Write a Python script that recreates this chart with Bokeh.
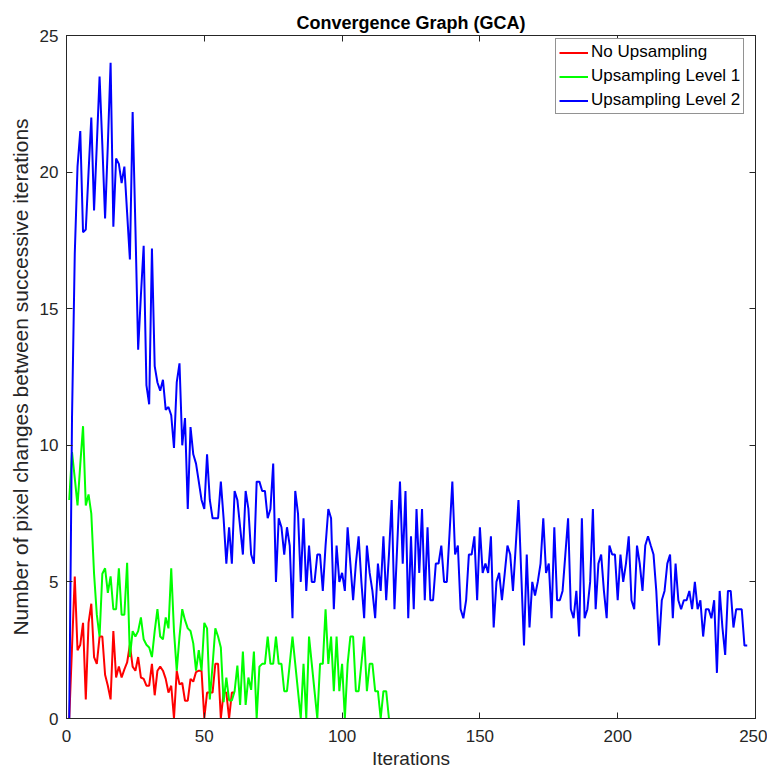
from bokeh.plotting import figure
from bokeh.models import LinearAxis, Legend, LegendItem, Range1d, FixedTicker, CustomLabelingPolicy
from bokeh.embed import file_html
from bokeh.resources import INLINE

# ---- data ----
no_upsampling = [0, 2.6, 5.2, 2.5, 2.7, 3.5, 0.7, 3.5, 4.2, 2.25,
                 2.0, 3.0, 3.0, 1.6, 1.2, 0.7, 3.2, 1.5, 1.9, 1.5,
                 1.8, 2.05, 2.7, 1.9, 1.75, 2.25, 1.5, 1.45, 1.2, 1.2,
                 2.0, 0.85, 1.75, 1.9, 1.75, 1.45, 0.95, 1.2, 0, 1.75,
                 1.25, 1.3, 0.65, 0.65, 1.45, 1.35, 1.7, 1.75, 1.75, 0,
                 0.95, 0.95, 0.95, 2.0, 2.0, 0, 0.95, 0.95, 0, 0.95, 0.95]

level1 = [8.0, 9.75, 8.8, 7.8, 9.3, 10.7, 7.8, 8.2, 7.5, 5.3,
          3.8, 3.0, 5.3, 5.5, 4.6, 5.2, 4.0, 4.0, 5.5, 3.8,
          3.8, 5.7, 2.25, 3.2, 3.0, 3.2, 3.7, 2.9, 2.7, 2.6,
          2.25, 3.2, 4.0, 3.0, 2.9, 3.7, 3.3, 5.5, 3.2, 1.75,
          3.0, 4.0, 3.6, 3.3, 3.2, 2.75, 1.75, 2.5, 1.75, 3.5,
          3.3, 0.7, 1.95, 3.3, 3.0, 2.6, 0.6, 1.5, 0.66, 0.66,
          1.0, 1.94, 0.5, 2.45, 0.5, 1.5, 1.05, 2.45, 0, 1.9,
          2.0, 2.0, 3.0, 2.0, 2.0, 3.0, 2.0, 2.0, 1.0, 1.0,
          2.0, 3.0, 2.0, 1.0, 0, 2.0, 0, 3.0, 2.0, 1.0,
          0, 2.0, 2.0, 4.0, 2.0, 3.0, 1.0, 3.0, 1.0, 2.0,
          0, 2.0, 3.0, 3.0, 1.0, 1.0, 2.0, 3.0, 1.0, 2.0,
          2.0, 1.0, 1.0, 0, 1.0, 1.0, 0]

level2 = [0, 11, 17, 20.2, 21.5, 17.8, 17.9, 20, 22, 18.6,
          21, 23.5, 21, 18.3, 21, 24, 18, 20.5, 20.3, 19.6,
          20.2, 18.5, 16.8, 22.2, 18, 13.5, 15.5, 17.3, 12.2, 11.5,
          17.2, 12.9, 12.3, 12, 12.4, 11.3, 11.4, 11.1, 9.9, 12.3,
          13, 10, 11.0, 7.67, 10.67, 9.67, 9.33, 8.67, 8.0, 7.67,
          9.67, 8.0, 7.33, 7.33, 7.33, 8.67, 7.33, 5.67, 7.0, 5.67,
          8.33, 8.0, 7.0, 6.0, 8.33, 7.67, 6.0, 5.67, 8.67, 8.67,
          8.33, 8.33, 7.33, 7.67, 9.33, 5.0, 7.33, 7.0, 6.0, 7.0,
          6.33, 3.67, 8.33, 7.5, 5.0, 7.33, 4.67, 6.33, 5.0, 5.0,
          6.0, 6.0, 4.67, 6.33, 7.67, 7.33, 4.0, 6.33, 5.0, 5.33,
          4.67, 7.0, 5.67, 4.33, 5.67, 6.67, 5.0, 3.67, 6.33, 5.33,
          4.67, 3.67, 5.67, 4.67, 6.67, 4.33, 6.0, 8.0, 4.0, 6.33,
          8.67, 5.67, 8.33, 3.67, 6.67, 4.0, 7.67, 5.33, 7.67, 4.33,
          7.0, 4.33, 4.33, 5.67, 5.67, 6.33, 5.0, 5.0, 6.8, 8.67,
          6.0, 6.33, 4.0, 3.67, 4.33, 6.0, 6.0, 6.67, 4.33, 7.0,
          5.33, 5.67, 5.33, 6.67, 3.33, 5.0, 5.33, 4.33, 5.3, 6.33,
          6.0, 4.67, 6.3, 8.0, 5.3, 2.67, 6.0, 3.33, 5.0, 4.5,
          5.0, 5.67, 7.33, 5.33, 5.67, 3.67, 7.0, 4.33, 4.33, 4.67,
          6.0, 7.33, 4.0, 3.67, 4.67, 3.0, 7.33, 3.67, 4.0, 5.0,
          7.67, 4.0, 5.67, 6.0, 4.67, 3.67, 6.33, 6.0, 6.0, 4.33,
          6.0, 5.0, 5.67, 6.67, 4.33, 4.0, 6.33, 5.67, 4.67, 6.33,
          6.67, 6.33, 6.0, 4.67, 2.67, 4.33, 4.67, 5.67, 6.0, 3.67,
          5.67, 4.33, 4.0, 4.33, 4.33, 4.67, 4.0, 5.0, 4.0, 4.33,
          3.0, 4.0, 4.0, 3.67, 4.33, 1.67, 4.67, 3.33, 2.33, 4.67,
          4.67, 3.33, 4.0, 4.0, 4.0, 2.67, 2.67]

series_names = ["No Upsampling", "Upsampling Level 1", "Upsampling Level 2"]
series_colors = ["#FF0000", "#00FF00", "#0000FF"]
x_ticks = [0, 50, 100, 150, 200, 250]
y_ticks = [0, 5, 10, 15, 20, 25]

FONT = "Liberation Sans"
AX = "#262626"

p = figure(frame_width=689, frame_height=683,
           x_range=Range1d(0, 250), y_range=Range1d(0, 25),
           output_backend="svg", toolbar_location=None,
           min_border_left=66, min_border_top=35, min_border_right=12, min_border_bottom=56,
           title="Convergence Graph (GCA)")
p.title.align = "center"
p.title.text_font = FONT
p.title.text_font_size = "18px"
p.title.text_font_style = "bold"
p.title.text_color = "#000000"
p.title.standoff = 6

p.grid.visible = False
p.outline_line_color = AX
p.outline_line_width = 1

for ax in (p.xaxis[0], p.yaxis[0]):
    ax.major_tick_in = 6
    ax.major_tick_out = 0
    ax.minor_tick_line_color = None
    ax.axis_line_color = AX
    ax.major_tick_line_color = AX
    ax.major_label_text_font = FONT
    ax.major_label_text_font_size = "17px"
    ax.major_label_text_color = AX
    ax.axis_label_text_font = FONT
    ax.axis_label_text_font_size = "19px"
    ax.axis_label_text_font_style = "normal"
    ax.axis_label_text_color = AX

p.xaxis[0].ticker = FixedTicker(ticks=x_ticks)
p.yaxis[0].ticker = FixedTicker(ticks=y_ticks)
p.xaxis[0].axis_label = "Iterations"
p.yaxis[0].axis_label = "Number of pixel changes between successive iterations"
p.yaxis[0].axis_label_text_font_size = "21px"
p.xaxis[0].major_label_standoff = 11
p.xaxis[0].axis_label_standoff = 3
p.yaxis[0].major_label_standoff = 8
p.yaxis[0].axis_label_standoff = 5

hide_all = CustomLabelingPolicy(code="return indices.difference(indices)")
top_ax = LinearAxis(ticker=FixedTicker(ticks=x_ticks))
right_ax = LinearAxis(ticker=FixedTicker(ticks=y_ticks))
for ax in (top_ax, right_ax):
    ax.major_tick_in = 6
    ax.major_tick_out = 0
    ax.minor_tick_line_color = None
    ax.axis_line_color = AX
    ax.major_tick_line_color = AX
    ax.major_label_text_font_size = "0px"
    ax.major_label_standoff = 0
    ax.major_label_policy = hide_all
p.add_layout(top_ax, "above")
p.add_layout(right_ax, "right")

renderers = []
for vals, col in zip([no_upsampling, level1, level2], series_colors):
    xs = list(range(1, len(vals) + 1))
    r = p.line(xs, vals, line_color=col, line_width=2)
    renderers.append(r)

legend = Legend(items=[LegendItem(label=n, renderers=[r]) for n, r in zip(series_names, renderers)],
                location=(489, 604))
legend.label_text_font = FONT
legend.label_text_font_size = "17px"
legend.label_text_color = "#000000"
legend.glyph_width = 29
legend.glyph_height = 19
legend.label_height = 19
legend.label_standoff = 3
legend.spacing = 4
legend.padding = 3
legend.margin = 0
legend.border_line_color = AX
legend.border_line_width = 1
legend.background_fill_color = "white"
legend.background_fill_alpha = 1
p.add_layout(legend, "center")

open("out.html", "w").write(file_html(p, INLINE))
